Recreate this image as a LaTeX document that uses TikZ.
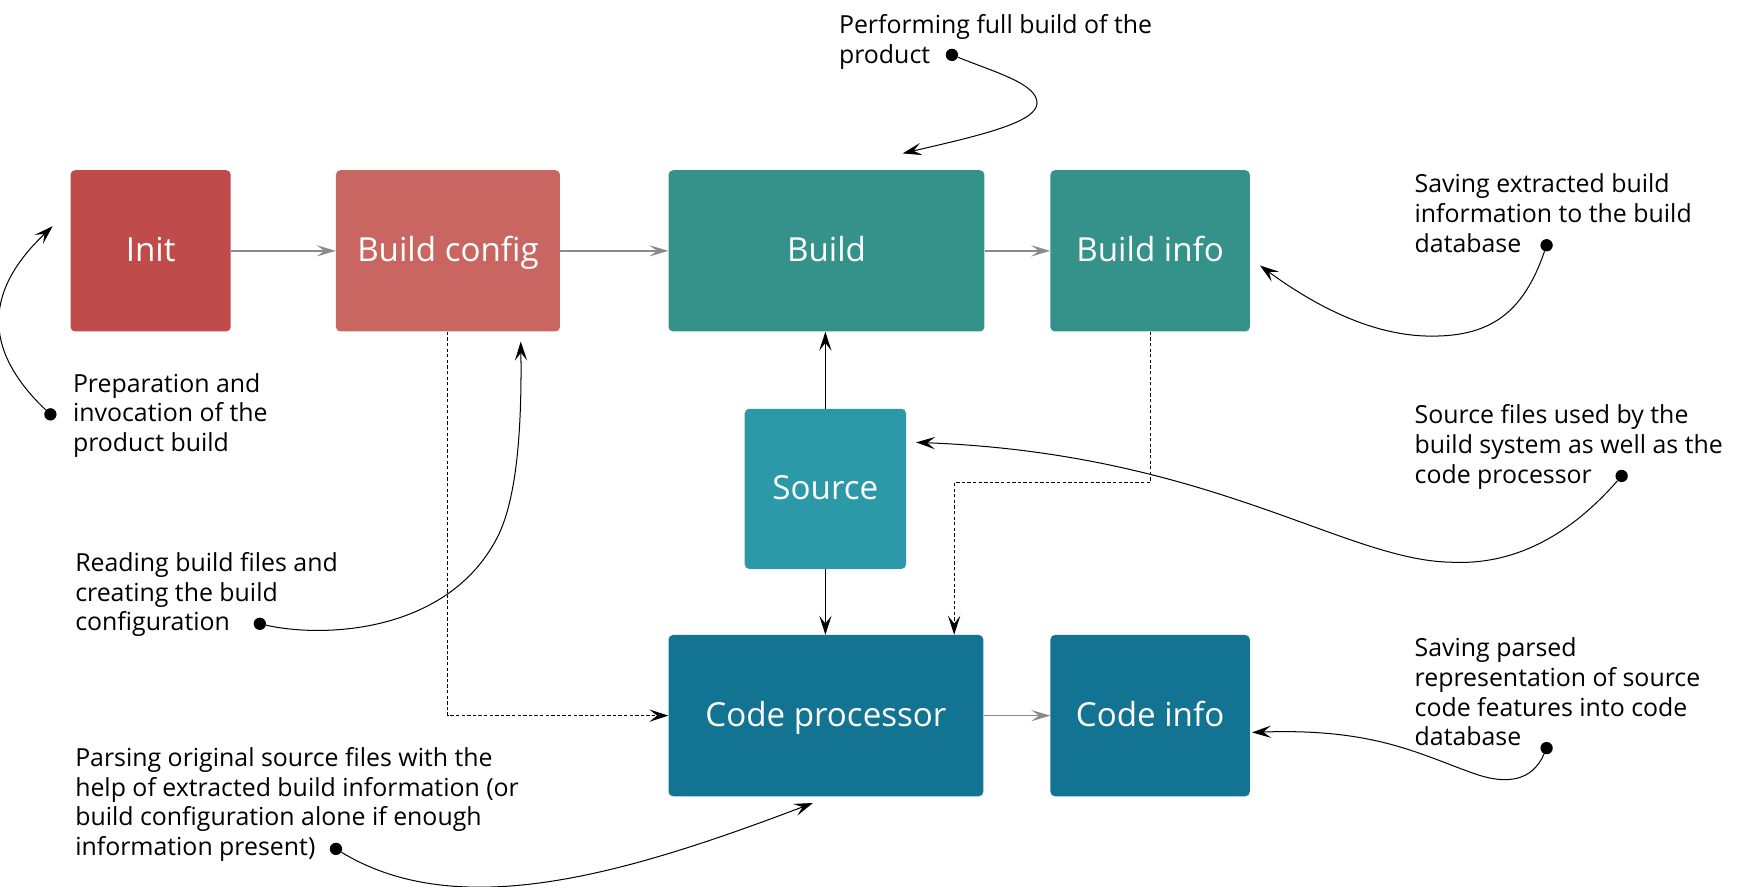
\documentclass[tikz,border=0pt]{standalone}
\usepackage{fontspec}
\setmainfont{Open Sans}
\usetikzlibrary{arrows.meta}
\definecolor{cInit}{HTML}{BF4B4A}
\definecolor{cConf}{HTML}{C96661}
\definecolor{cBuild}{HTML}{35928A}
\definecolor{cSource}{HTML}{2C99A8}
\definecolor{cCode}{HTML}{127492}
\definecolor{cFlow}{HTML}{8A8A8A}
\begin{document}
\begin{tikzpicture}[x=1bp,y=-1bp,
  box/.style={rectangle, rounded corners=4bp, inner sep=0pt, minimum height=144bp, text=white, font=\fontsize{29.7}{34}\selectfont, text height=23.8bp, text depth=4.5bp},
  note/.style={anchor=base west, align=left, inner sep=0pt, font=\fontsize{22.3}{26.7}\selectfont},
  dot/.style={circle, fill=black, inner sep=0pt, minimum size=11bp},
  flow/.style={draw=cFlow, line width=1.2bp, -{Stealth[length=17bp,width=10bp,inset=7bp]}},
  feed/.style={draw=black, line width=1.2bp, -{Stealth[length=17bp,width=11bp,inset=7bp]}},
  dep/.style={draw=black, line width=0.9bp, dash pattern=on 3bp off 2bp, -{Stealth[length=17bp,width=11bp,inset=7bp]}},
  pointer/.style={draw=black, line width=0.9bp, -{Stealth[length=17bp,width=11bp,inset=7bp]}}
]
\useasboundingbox (0,0) rectangle (1568,792);

% boxes
\node[box, fill=cInit, minimum width=143bp] (init) at (134.5,224) {Init};
\node[box, fill=cConf, minimum width=200bp] (conf) at (400,224) {Build config};
\node[box, fill=cBuild, minimum width=282bp] (build) at (738,224) {Build};
\node[box, fill=cBuild, minimum width=178bp] (binfo) at (1027,224) {Build info};
\node[box, fill=cSource, minimum width=144bp, minimum height=143bp] (source) at (737,436.5) {Source};
\node[box, fill=cCode, minimum width=281bp] (proc) at (737.5,639) {Code processor};
\node[box, fill=cCode, minimum width=178bp] (cinfo) at (1027,639) {Code info};

% main flow
\draw[flow] (init) -- (conf);
\draw[flow] (conf) -- (build);
\draw[flow] (build) -- (binfo);
\draw[flow] (proc) -- (cinfo);
\draw[feed] (source.north) -- (source.north |- build.south);
\draw[feed] (source.south) -- (source.south |- proc.north);

% dependencies
\draw[dep] (conf.south) |- (proc.west);
\coordinate (turn) at (852,431);
\draw[dep] (binfo.south) |- (turn) -- (turn |- proc.north);

% annotations (anchored at the baseline of their last line)
\node[note] (n1) at (65,403.4) {Preparation and\\invocation of the\\product build};
\node[note] (n2) at (67,563.4) {Reading build files and\\creating the build\\configuration};
\node[note] (n3) at (749,56.7) {Performing full build of the\\product};
\node[note] (n4) at (1263,225.4) {Saving extracted build\\information to the build\\database};
\node[note] (n5) at (1263,431.4) {Source files used by the\\build system as well as the\\code processor};
\node[note] (n6) at (1263,666.1) {Saving parsed\\representation of source\\code features into code\\database};
\node[note] (n7) at (67,764.1) {Parsing original source files with the\\help of extracted build information (or\\build configuration alone if enough\\information present)};

\node[dot] (d1) at (45,370) {};
\node[dot] (d2) at (232,557) {};
\node[dot] (d3) at (850,49) {};
\node[dot] (d4) at (1381,219) {};
\node[dot] (d5) at (1448,425) {};
\node[dot] (d6) at (1381,668) {};
\node[dot] (d7) at (300,758) {};

\coordinate (t1) at (47,202);
\coordinate (t2) at (465,305);
\coordinate (t3) at (806,137);
\coordinate (t4) at (1125,237);
\coordinate (t5) at (818,395);
\coordinate (t6) at (1118,654);
\coordinate (t7) at (726,717);

\draw[pointer] (d1) .. controls (-18,310) and (-12,258) .. (t1);
\draw[pointer] (d2) .. controls (290,570) and (400,565) .. (444,480) .. controls (462,445) and (466,380) .. (t2);
\draw[pointer] (d3) .. controls (890,65) and (926,75) .. (926,92) .. controls (926,110) and (870,122) .. (t3);
\draw[pointer] (d4) .. controls (1360,280) and (1330,302) .. (1272,300) .. controls (1220,298) and (1170,270) .. (t4);
\draw[pointer] (d5) .. controls (1400,480) and (1350,505) .. (1295,502) .. controls (1200,500) and (1080,405) .. (t5);
\draw[pointer] (d6) .. controls (1368,698) and (1345,700) .. (1320,692) .. controls (1270,675) and (1230,650) .. (t6);
\draw[pointer] (d7) .. controls (410,825) and (560,780) .. (t7);
\end{tikzpicture}
\end{document}
